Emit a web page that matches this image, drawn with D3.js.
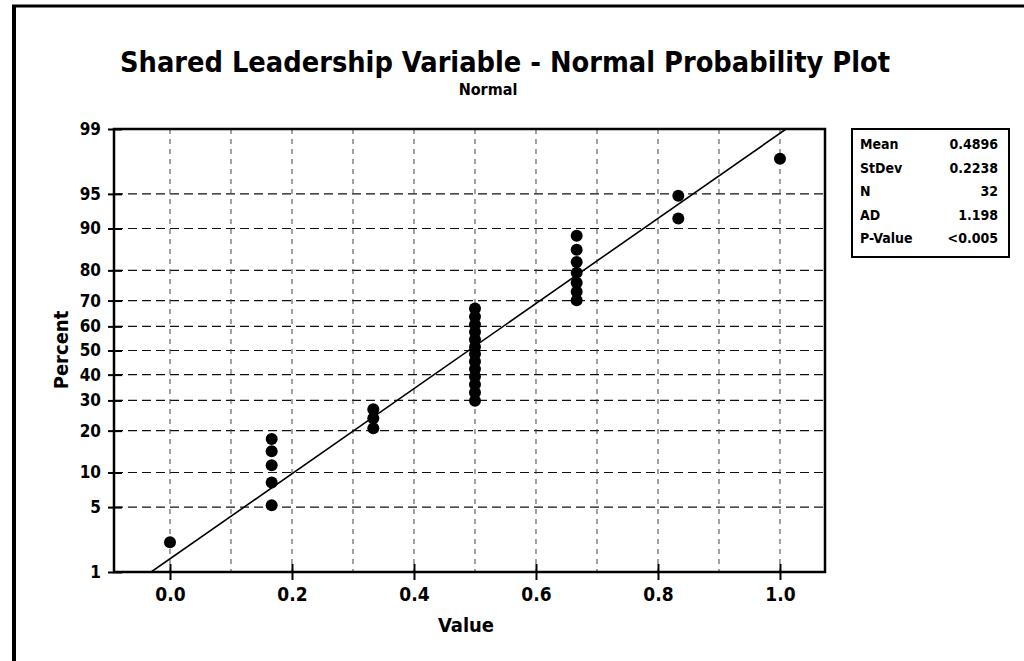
<!DOCTYPE html>
<html>
<head>
<meta charset="utf-8">
<script src="https://cdn.jsdelivr.net/npm/d3@7"></script>
<style>
  html, body { margin: 0; padding: 0; background: #fff; }
  svg { display: block; }
  text { font-family: "DejaVu Sans", "Liberation Sans", sans-serif; font-stretch: condensed; fill: #000; }
</style>
</head>
<body>
<svg id="chart" width="1024" height="661"></svg>
<script>
// ---------------- data ----------------
const titleText = "Shared Leadership Variable - Normal Probability Plot";
const subtitleText = "Normal";
const xLabel = "Value";
const yLabel = "Percent";

// observed values (sorted) and their plotted percents
const values = [0,
  0.1667, 0.1667, 0.1667, 0.1667, 0.1667,
  0.3333, 0.3333, 0.3333,
  0.5, 0.5, 0.5, 0.5, 0.5, 0.5, 0.5, 0.5, 0.5, 0.5, 0.5, 0.5, 0.5,
  0.6667, 0.6667, 0.6667, 0.6667, 0.6667, 0.6667, 0.6667,
  0.8333, 0.8333,
  1.0];
const percents = [2.2,
  5.2, 8.3, 11.4, 14.5, 17.6,
  20.7, 23.8, 26.9,
  29.9, 33.0, 36.1, 39.2, 42.3, 45.4, 48.5, 51.5, 54.6, 57.7, 60.8, 63.9, 67.0,
  70.1, 73.1, 76.2, 79.3, 82.4, 85.5, 88.6,
  91.7, 94.8,
  97.8];

// fitted line end points
const fitX = [-0.031, 1.010];
const fitP = [1, 99];

// axes
const yTicks = [1, 5, 10, 20, 30, 40, 50, 60, 70, 80, 90, 95, 99];
const yGrid = [5, 10, 20, 30, 40, 50, 60, 70, 80, 90, 95];
const xTicks = [0.0, 0.2, 0.4, 0.6, 0.8, 1.0];
const xGrid = [0.0, 0.1, 0.2, 0.3, 0.4, 0.5, 0.6, 0.7, 0.8, 0.9, 1.0];
const xDomain = [-0.0918, 1.0738];

// stats box
const statLabels = ["Mean", "StDev", "N", "AD", "P-Value"];
const statValues = ["0.4896", "0.2238", "32", "1.198", "<0.005"];

// ---------------- helpers ----------------
// inverse standard normal CDF (Acklam)
function qnorm(p) {
  const a = [-3.969683028665376e+01, 2.209460984245205e+02, -2.759285104469687e+02, 1.383577518672690e+02, -3.066479806614716e+01, 2.506628277459239e+00];
  const b = [-5.447609879822406e+01, 1.615858368580409e+02, -1.556989798598866e+02, 6.680131188771972e+01, -1.328068155288572e+01];
  const c = [-7.784894002430293e-03, -3.223964580411365e-01, -2.400758277161838e+00, -2.549732539343734e+00, 4.374664141464968e+00, 2.938163982698783e+00];
  const d = [7.784695709041462e-03, 3.224671290700398e-01, 2.445134137142996e+00, 3.754408661907416e+00];
  const pl = 0.02425, ph = 1 - pl;
  let q, r;
  if (p < pl) {
    q = Math.sqrt(-2 * Math.log(p));
    return (((((c[0]*q+c[1])*q+c[2])*q+c[3])*q+c[4])*q+c[5]) / ((((d[0]*q+d[1])*q+d[2])*q+d[3])*q+1);
  } else if (p <= ph) {
    q = p - 0.5; r = q * q;
    return (((((a[0]*r+a[1])*r+a[2])*r+a[3])*r+a[4])*r+a[5])*q / (((((b[0]*r+b[1])*r+b[2])*r+b[3])*r+b[4])*r+1);
  } else {
    q = Math.sqrt(-2 * Math.log(1 - p));
    return -(((((c[0]*q+c[1])*q+c[2])*q+c[3])*q+c[4])*q+c[5]) / ((((d[0]*q+d[1])*q+d[2])*q+d[3])*q+1);
  }
}

// ---------------- layout ----------------
const svg = d3.select("#chart");
const plot = { left: 114, right: 825, top: 129, bottom: 572 };

const x = d3.scaleLinear().domain(xDomain).range([plot.left, plot.right]);
const zScale = d3.scaleLinear().domain([qnorm(0.01), qnorm(0.99)]).range([plot.bottom, plot.top]);
const y = p => zScale(qnorm(p / 100));

// outer frame
svg.append("line").attr("x1", 14).attr("x2", 14).attr("y1", 5).attr("y2", 661)
  .attr("stroke", "#000").attr("stroke-width", 4);
svg.append("line").attr("x1", 12).attr("x2", 1024).attr("y1", 6).attr("y2", 6)
  .attr("stroke", "#000").attr("stroke-width", 3);

// title
svg.append("text").attr("x", 505).attr("y", 72).attr("text-anchor", "middle")
  .attr("font-size", 28).attr("font-weight", "bold")
  .attr("textLength", 770).attr("lengthAdjust", "spacingAndGlyphs").text(titleText);
svg.append("text").attr("x", 488).attr("y", 95).attr("text-anchor", "middle")
  .attr("font-size", 16).attr("font-weight", "bold").text(subtitleText);

// grid
const g = svg.append("g");
g.selectAll(".hgrid").data(yGrid).join("line")
  .attr("x1", plot.left).attr("x2", plot.right)
  .attr("y1", d => y(d)).attr("y2", d => y(d))
  .attr("stroke", "#111").attr("stroke-width", 1.2).attr("stroke-dasharray", "9,5");
g.selectAll(".vgrid").data(xGrid).join("line")
  .attr("x1", d => x(d)).attr("x2", d => x(d))
  .attr("y1", plot.top).attr("y2", plot.bottom)
  .attr("stroke", "#444").attr("stroke-width", 1).attr("stroke-dasharray", "5,5");

// axes via d3 axis generators
const yAxis = d3.axisLeft(zScale)
  .tickValues(yTicks.map(p => qnorm(p / 100)))
  .tickFormat((d, i) => yTicks[i])
  .tickSizeInner(5).tickSizeOuter(0).tickPadding(8);
const yg = svg.append("g").attr("transform", `translate(${plot.left},0)`).call(yAxis);
yg.select(".domain").remove();
yg.selectAll(".tick line").attr("x2", -6).attr("x1", 8).attr("stroke", "#000").attr("stroke-width", 2);
yg.selectAll(".tick text").attr("font-size", 17).attr("font-weight", "bold")
  .style("font-family", '"DejaVu Sans", sans-serif').attr("fill", "#000");

const xAxis = d3.axisBottom(x).tickValues(xTicks).tickFormat(d3.format(".1f"))
  .tickSizeInner(8).tickSizeOuter(0).tickPadding(8);
const xg = svg.append("g").attr("transform", `translate(0,${plot.bottom})`).call(xAxis);
xg.select(".domain").remove();
xg.selectAll(".tick line").attr("y1", -8).attr("y2", 8).attr("stroke", "#000").attr("stroke-width", 2);
xg.selectAll(".tick text").attr("font-size", 19).attr("font-weight", "bold")
  .style("font-family", '"DejaVu Sans", sans-serif').attr("fill", "#000");

// plot box
svg.append("rect").attr("x", plot.left).attr("y", plot.top)
  .attr("width", plot.right - plot.left).attr("height", plot.bottom - plot.top)
  .attr("fill", "none").attr("stroke", "#000").attr("stroke-width", 2.5);

// axis labels
svg.append("text").attr("x", 466).attr("y", 632).attr("text-anchor", "middle")
  .attr("font-size", 20).attr("font-weight", "bold").text(xLabel);
svg.append("text").attr("transform", "translate(68,350) rotate(-90)").attr("text-anchor", "middle")
  .attr("font-size", 20).attr("font-weight", "bold").text(yLabel);

// fitted line
svg.append("clipPath").attr("id", "clip").append("rect")
  .attr("x", plot.left).attr("y", plot.top).attr("width", plot.right - plot.left).attr("height", plot.bottom - plot.top);
svg.append("path")
  .datum(fitX.map((v, i) => [v, fitP[i]]))
  .attr("clip-path", "url(#clip)")
  .attr("d", d3.line().x(d => x(d[0])).y(d => y(d[1])))
  .attr("fill", "none").attr("stroke", "#000").attr("stroke-width", 1.6);

// points
svg.append("g").selectAll("circle").data(values).join("circle")
  .attr("cx", d => x(d)).attr("cy", (d, i) => y(percents[i]))
  .attr("r", 6).attr("fill", "#000");

// stats box
const box = { left: 852, right: 1009, top: 129, bottom: 257 };
svg.append("rect").attr("x", box.left).attr("y", box.top)
  .attr("width", box.right - box.left).attr("height", box.bottom - box.top)
  .attr("fill", "#fff").attr("stroke", "#000").attr("stroke-width", 2);
const rowY = d3.scalePoint().domain(statLabels).range([149, 243]);
svg.append("g").selectAll("text").data(statLabels).join("text")
  .attr("x", 860).attr("y", d => rowY(d))
  .attr("font-size", 14).attr("font-weight", "bold").text(d => d);
svg.append("g").selectAll("text").data(statValues).join("text")
  .attr("x", 998).attr("y", (d, i) => rowY(statLabels[i])).attr("text-anchor", "end")
  .attr("font-size", 14).attr("font-weight", "bold").text(d => d);
</script>
</body>
</html>
